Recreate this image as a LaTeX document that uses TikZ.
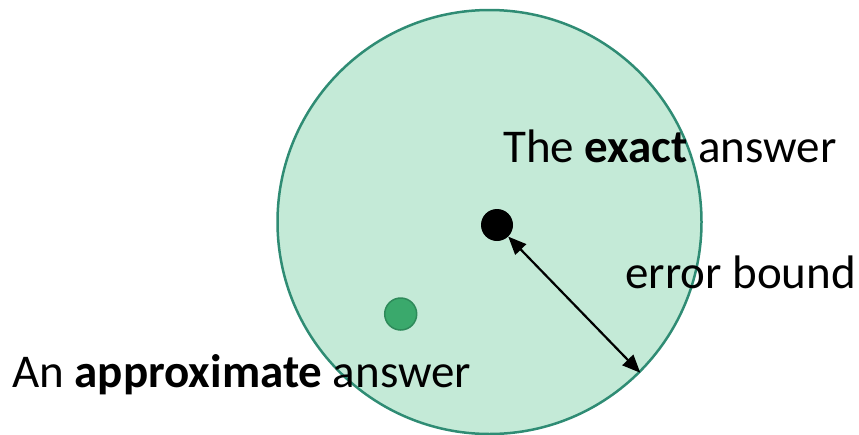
\documentclass[tikz,border=0pt]{standalone}
\usepackage{fontspec}
\setmainfont{Carlito}
\usepackage{tikz}
\usetikzlibrary{arrows.meta,positioning}
\usepackage{xcolor}
\definecolor{regionfill}{HTML}{C4EAD7}
\definecolor{regionline}{HTML}{2F8C74}
\definecolor{dotgreen}{HTML}{3AA96C}
\definecolor{dotline}{HTML}{2E8A5A}

\begin{document}
\begin{tikzpicture}[
  x=1pt, y=-1pt,
  every node/.style={inner sep=0pt, font=\fontsize{47}{56}\selectfont},
  dot/.style={circle, minimum size=32pt},
  lbl/.style={anchor=base west},
  arr/.style={{Triangle[length=18pt,width=15pt]}-{Triangle[length=18pt,width=15pt]}, line width=2.2pt},
]
  \useasboundingbox (0,0) rectangle (859,434);

  % Error region
  \node[circle, minimum size=424pt, fill=regionfill, draw=regionline, line width=2.5pt] (region) at (489.5,222) {};

  % Answers
  \node[dot, fill=black] (exact) at (497,225) {};
  \node[dot, fill=dotgreen, draw=dotline, line width=1.5pt] (approx) at (400.7,314) {};

  % Labels
  \node[lbl] (exactlbl) at (503,162) {The \textbf{exact} answer};
  \node[lbl] (boundlbl) at (625,288) {error bound};
  \node[lbl] (approxlbl) at (12,387) {An \textbf{approximate} answer};

  % Bound
  \draw[arr] (exact) -- (region.-45);
\end{tikzpicture}
\end{document}
